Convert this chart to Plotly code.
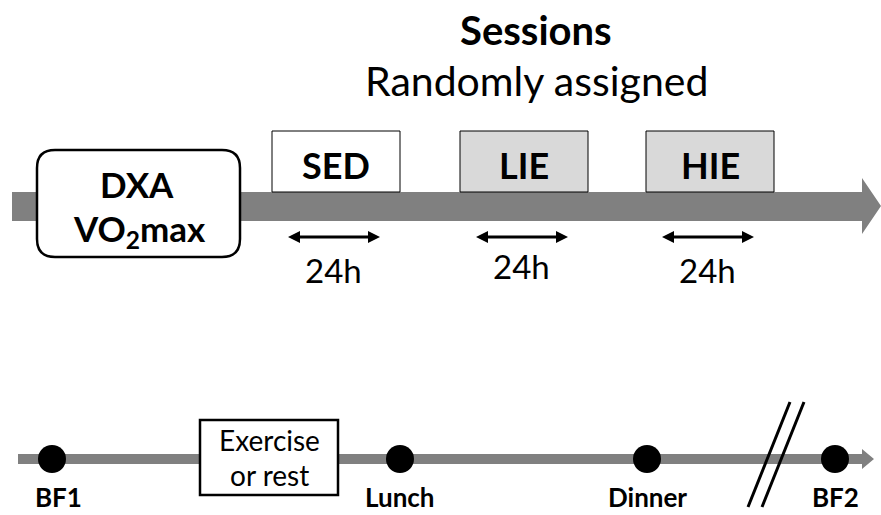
import plotly.graph_objects as go

# ---- content ----
title_main = "Sessions"
title_sub = "Randomly assigned"
baseline_box_lines = ["DXA", "VO<sub>2</sub>max"]
sessions = ["SED", "LIE", "HIE"]
session_x = [336, 524, 710]          # centres along the top timeline
session_fill = ["white", "#d9d9d9", "#d9d9d9"]
session_duration = ["24h", "24h", "24h"]
meals = ["BF1", "Lunch", "Dinner", "BF2"]
meal_x = [52, 400, 647, 835]        # positions along the day timeline
exercise_label = ["Exercise", "or rest"]

FONT = "Lato"
fig = go.Figure()
shapes = []
ann = []

# top timeline bar with arrow head
shapes.append(dict(type="path", path="M 12 192 L 862 192 L 862 178 L 881 206 L 862 234 L 862 221 L 12 221 Z",
                   fillcolor="#808080", line=dict(width=0)))

# rounded DXA box
x0, x1, y0, y1, r = 37, 240, 150, 257, 18
p = (f"M {x0+r} {y0} L {x1-r} {y0} Q {x1} {y0} {x1} {y0+r} L {x1} {y1-r} Q {x1} {y1} {x1-r} {y1} "
     f"L {x0+r} {y1} Q {x0} {y1} {x0} {y1-r} L {x0} {y0+r} Q {x0} {y0} {x0+r} {y0} Z")
shapes.append(dict(type="path", path=p, fillcolor="white", line=dict(color="black", width=2.5)))
ann.append(dict(x=137, y=184, text="<b>" + baseline_box_lines[0] + "</b>", font=dict(size=35)))
ann.append(dict(x=139, y=230, text="<b>" + baseline_box_lines[1] + "</b>", font=dict(size=35)))

# sessions
for name, cx, fill, dur, ty in zip(sessions, session_x, session_fill, session_duration, [270, 266, 270]):
    shapes.append(dict(type="rect", x0=cx - 64, x1=cx + 64, y0=131, y1=192, fillcolor=fill,
                       line=dict(color="black", width=1)))
    ann.append(dict(x=cx, y=165, text="<b>" + name + "</b>", font=dict(size=36)))
    ax0, ax1, ay = cx - 48, cx + 44, 237
    shapes.append(dict(type="line", x0=ax0 + 6, x1=ax1 - 6, y0=ay, y1=ay, line=dict(color="black", width=3)))
    shapes.append(dict(type="path", path=f"M {ax0} {ay} L {ax0+12} {ay-6} L {ax0+12} {ay+6} Z",
                       fillcolor="black", line=dict(width=0)))
    shapes.append(dict(type="path", path=f"M {ax1} {ay} L {ax1-12} {ay-6} L {ax1-12} {ay+6} Z",
                       fillcolor="black", line=dict(width=0)))
    ann.append(dict(x=cx - 3, y=ty, text=dur, font=dict(size=33)))

ann.append(dict(x=536, y=30, text="<b>" + title_main + "</b>", font=dict(size=40)))
ann.append(dict(x=536, y=80, text=title_sub, font=dict(size=41)))

# day timeline
ly = 459
shapes.append(dict(type="path", path=f"M 18 {ly-5} L 862 {ly-5} L 862 {ly-10} L 874 {ly} L 862 {ly+10} L 862 {ly+5} L 18 {ly+5} Z",
                   fillcolor="#808080", line=dict(width=0)))
# exercise box
shapes.append(dict(type="rect", x0=200, x1=338, y0=420, y1=495, fillcolor="white",
                   line=dict(color="black", width=2.5)))
ann.append(dict(x=269, y=440, text=exercise_label[0], font=dict(size=28)))
ann.append(dict(x=269, y=475, text=exercise_label[1], font=dict(size=28)))

# break marks
shapes.append(dict(type="line", x0=748, y0=507, x1=790, y1=402, line=dict(color="black", width=3)))
shapes.append(dict(type="line", x0=762, y0=507, x1=804, y1=402, line=dict(color="black", width=3)))

for name, mx in zip(meals, meal_x):
    shapes.append(dict(type="circle", x0=mx - 14, x1=mx + 14, y0=ly - 14, y1=ly + 14,
                       fillcolor="black", line=dict(width=0)))
    ann.append(dict(x=mx + (6 if name == "BF1" else 0), y=497, text="<b>" + name + "</b>", font=dict(size=26)))

for a in ann:
    a.update(xref="x", yref="y", showarrow=False, xanchor="center", yanchor="middle")
    a["font"].update(family=FONT, color="black")

fig.update_layout(
    width=881, height=515, margin=dict(l=0, r=0, t=0, b=0),
    plot_bgcolor="white", paper_bgcolor="white",
    xaxis=dict(range=[0, 881], visible=False, fixedrange=True),
    yaxis=dict(range=[515, 0], visible=False, fixedrange=True),
    shapes=shapes, annotations=ann, showlegend=False,
)
fig.write_html("out.html", config=dict(displayModeBar=False),
               post_script="document.body.style.margin='0';document.body.style.overflow='hidden';")
